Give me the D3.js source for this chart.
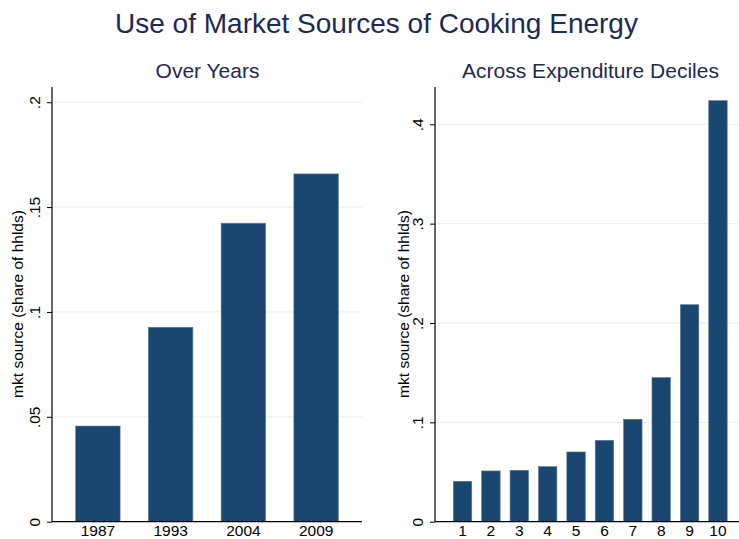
<!DOCTYPE html>
<html>
<head>
<meta charset="utf-8">
<script src="https://cdn.jsdelivr.net/npm/d3@7"></script>
<style>
  html, body { margin: 0; padding: 0; background: #fff; }
  svg { display: block; font-family: "Liberation Sans", Arial, sans-serif; }
</style>
</head>
<body>
<svg id="chart" width="739" height="539"></svg>
<script>
// ---- data ----
const years = ["1987", "1993", "2004", "2009"];
const yearValues = [0.0456, 0.0927, 0.1423, 0.1658];
const deciles = ["1", "2", "3", "4", "5", "6", "7", "8", "9", "10"];
const decileValues = [0.0407, 0.0511, 0.0517, 0.0554, 0.0702, 0.0819, 0.1031, 0.1450, 0.2184, 0.4238];
const leftTicks = [0, 0.05, 0.1, 0.15, 0.2];
const rightTicks = [0, 0.1, 0.2, 0.3, 0.4];
const mainTitle = "Use of Market Sources of Cooking Energy";
const leftTitle = "Over Years";
const rightTitle = "Across Expenditure Deciles";
const yAxisTitle = "mkt source (share of hhlds)";

// ---- styles ----
const barColor = "#1a476f";
const titleColor = "#1e2a52";
const gridColor = "#e8eef1";
const fmt = v => v === 0 ? "0" : String(v).replace(/^0/, "");

const svg = d3.select("#chart");

svg.append("text")
  .attr("x", 376.5).attr("y", 33)
  .attr("text-anchor", "middle")
  .attr("font-size", 28)
  .attr("fill", titleColor)
  .text(mainTitle);

function panel(opts) {
  const g = svg.append("g");
  const y = d3.scaleLinear().domain([0, opts.yMaxDomain]).range([521.7, opts.yMaxPx]);
  const x = d3.scaleBand().domain(opts.cats).range(opts.xRange)
    .paddingInner(opts.pi).paddingOuter(opts.po);

  // gridlines
  g.append("g").selectAll("line")
    .data(opts.ticks.filter(t => t > 0))
    .join("line")
    .attr("x1", opts.axisX + 1).attr("x2", opts.axisEnd)
    .attr("y1", d => y(d)).attr("y2", d => y(d))
    .attr("stroke", gridColor).attr("stroke-width", 1);

  // bars
  g.append("g").selectAll("rect")
    .data(opts.vals)
    .join("rect")
    .attr("x", (d, i) => x(opts.cats[i]))
    .attr("width", x.bandwidth())
    .attr("y", d => y(d))
    .attr("height", d => y(0) - y(d))
    .attr("fill", barColor)
    .attr("stroke", "#5b7896")
    .attr("stroke-width", 0.6);

  // y axis
  const yAxis = d3.axisLeft(y).tickValues(opts.ticks).tickFormat(fmt).tickSize(5).tickPadding(4);
  const ya = g.append("g").attr("transform", `translate(${opts.axisX},0)`).call(yAxis);
  ya.select(".domain").remove();
  ya.append("line").attr("x1", 0).attr("x2", 0).attr("y1", y(0)).attr("y2", 87)
    .attr("stroke", "#000").attr("stroke-width", 1.2);
  ya.selectAll(".tick line").attr("stroke", "#000");
  ya.selectAll(".tick text")
    .attr("font-size", 15.5).attr("fill", "#000")
    .attr("text-anchor", "middle")
    .attr("transform", "rotate(-90)")
    .attr("x", 0).attr("dy", 0)
    .attr("y", -12)
    .attr("font-family", "Liberation Sans, Arial, sans-serif");

  // x axis
  const xAxis = d3.axisBottom(x).tickSize(0).tickPadding(0);
  const xa = g.append("g").attr("transform", `translate(0,${y(0)})`).call(xAxis);
  xa.select(".domain").remove();
  xa.append("line").attr("x1", opts.axisX).attr("x2", opts.axisEnd).attr("y1", 0).attr("y2", 0)
    .attr("stroke", "#000").attr("stroke-width", 1.2);
  xa.selectAll(".tick text").attr("font-size", 15.5).attr("fill", "#000")
    .attr("dy", 0).attr("y", 14.5)
    .attr("font-family", "Liberation Sans, Arial, sans-serif");

  // y title
  g.append("text")
    .attr("transform", `translate(${opts.titleX},304) rotate(-90)`)
    .attr("text-anchor", "middle")
    .attr("font-size", 15.5)
    .attr("fill", "#000")
    .text(yAxisTitle);

  // panel subtitle
  g.append("text")
    .attr("x", opts.subX).attr("y", 78)
    .attr("text-anchor", "middle")
    .attr("font-size", 21)
    .attr("fill", titleColor)
    .text(opts.sub);
}

panel({
  cats: years, vals: yearValues, ticks: leftTicks,
  yMaxDomain: 0.2, yMaxPx: 102.2,
  xRange: [52, 362], pi: 0.389, po: 0.325,
  axisX: 52, axisEnd: 362, titleX: 23, subX: 207.5, sub: leftTitle
});

panel({
  cats: deciles, vals: decileValues, ticks: rightTicks,
  yMaxDomain: 0.4, yMaxPx: 124.3,
  xRange: [435, 745.5], pi: 0.35, po: 0.645,
  axisX: 435, axisEnd: 739, titleX: 408.5, subX: 590.5, sub: rightTitle
});
</script>
</body>
</html>
